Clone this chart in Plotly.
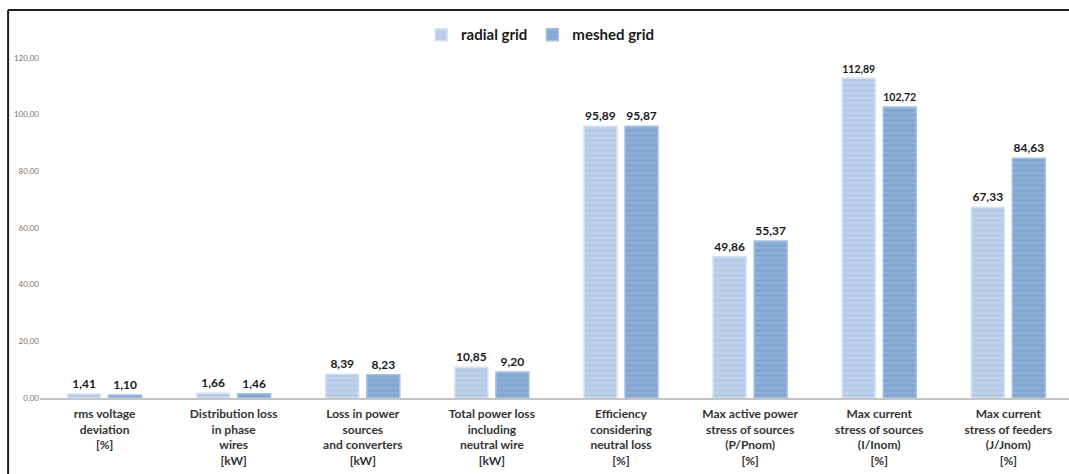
import plotly.graph_objects as go

# Grid comparison: radial vs meshed layout
categories = [
    "rms voltage<br>deviation<br>[%]",
    "Distribution loss<br>in phase<br>wires<br>[kW]",
    "Loss in power<br>sources<br>and converters<br>[kW]",
    "Total power loss<br>including<br>neutral wire<br>[kW]",
    "Efficiency<br>considering<br>neutral loss<br>[%]",
    "Max active power<br>stress of sources<br>(P/Pnom)<br>[%]",
    "Max current<br>stress of sources<br>(I/Inom)<br>[%]",
    "Max current<br>stress of feeders<br>(J/Jnom)<br>[%]",
]
radial_grid = [1.41, 1.66, 8.39, 10.85, 95.89, 49.86, 112.89, 67.33]
meshed_grid = [1.10, 1.46, 8.23, 9.20, 95.87, 55.37, 102.72, 84.63]
y_ticks = [0, 20, 40, 60, 80, 100, 120]


def fmt(v):
    return f"{v:.2f}".replace(".", ",")


x_idx = list(range(len(categories)))

label_font = dict(family="Lato", size=12, color="#1a1a1a", weight="bold")

fig = go.Figure()
fig.add_trace(go.Bar(
    name="radial grid", x=x_idx, y=radial_grid,
    text=[fmt(v) for v in radial_grid], textposition="outside",
    textfont=label_font,
    marker=dict(color="#bed1ea", line=dict(color="#d6e2f2", width=1.5),
                pattern=dict(shape="-", fgcolor="#a6c0e1", size=5, solidity=0.4)),
    cliponaxis=False,
))
fig.add_trace(go.Bar(
    name="meshed grid", x=x_idx, y=meshed_grid,
    text=[fmt(v) for v in meshed_grid], textposition="outside",
    textfont=label_font,
    marker=dict(color="#8eafd7", line=dict(color="#a9c1e0", width=1.5),
                pattern=dict(shape="-", fgcolor="#6f96c6", size=5, solidity=0.4)),
    cliponaxis=False,
))

# partial chart frame (top and left edges)
fig.add_shape(type="line", xref="paper", yref="paper",
              x0=-0.031, x1=1.05, y0=1.141, y1=1.141,
              line=dict(color="#1e1e1e", width=2))
fig.add_shape(type="line", xref="paper", yref="paper",
              x0=-0.031, x1=-0.031, y0=-0.3, y1=1.141,
              line=dict(color="#1e1e1e", width=2))

fig.update_layout(
    width=1069, height=474,
    margin=dict(l=40, r=0, t=58, b=76),
    paper_bgcolor="white", plot_bgcolor="white",
    separators=",.",
    barmode="group", bargap=0.364, bargroupgap=0.195,
    showlegend=True,
    legend=dict(orientation="h", x=0.486, xanchor="center", y=1.068, yanchor="middle",
                font=dict(family="Lato", size=15, color="#1a1a1a", weight="bold"),
                itemwidth=30, traceorder="normal"),
    font=dict(family="Lato"),
    xaxis=dict(
        range=[-0.5, 7.47], tickmode="array", tickvals=x_idx, ticktext=categories,
        showline=True, linecolor="#c4c4c4", linewidth=1.5, ticks="",
        showgrid=False, zeroline=False, ticklabelstandoff=4,
        tickfont=dict(family="Lato", size=12, color="#333333", weight="bold"),
    ),
    yaxis=dict(
        range=[0, 120], tickmode="array", tickvals=y_ticks, tickformat=".2f",
        showgrid=False, zeroline=False, showline=False, ticks="",
        tickfont=dict(family="Lato", size=8, color="#7d7166"),
    ),
)

fig.write_html("out.html")
